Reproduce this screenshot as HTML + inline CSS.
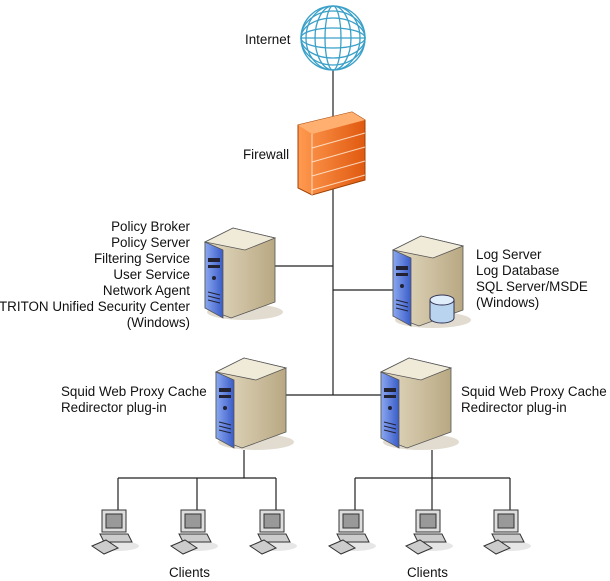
<!DOCTYPE html>
<html><head><meta charset="utf-8"><style>
body{margin:0;background:#fff}
svg{display:block}
text{font-family:"Liberation Sans",sans-serif;font-size:13.4px;fill:#111}
</style></head><body>
<svg width="610" height="581" viewBox="0 0 610 581" xmlns="http://www.w3.org/2000/svg">
<defs>
<linearGradient id="side" x1="0" x2="1"><stop offset="0" stop-color="#e6dcc4"/><stop offset="1" stop-color="#b8a882"/></linearGradient>
<linearGradient id="front" x1="0" x2="1"><stop offset="0" stop-color="#8aa8f0"/><stop offset="1" stop-color="#3a5cc8"/></linearGradient>
<linearGradient id="fw" x1="0" x2="1"><stop offset="0" stop-color="#ff9a50"/><stop offset="1" stop-color="#e05a10"/></linearGradient>
<g id="srv">
<ellipse cx="40" cy="92" rx="38" ry="8" fill="#e2dcd0"/>
<polygon points="0,22 28,8 70,18 70,82 26,98 0,88" fill="url(#side)" stroke="#555" stroke-width="0.8"/>
<polygon points="0,22 28,8 70,18 40,30" fill="#f0ead8" stroke="#555" stroke-width="0.8"/>
<polygon points="0,22 18,30 18,98 0,88" fill="url(#front)" stroke="#555" stroke-width="0.8"/>
<rect x="3" y="38" width="12" height="4" fill="#223"/><rect x="3" y="45" width="12" height="3" fill="#223"/>
<circle cx="9" cy="58" r="2" fill="#223"/>
<line x1="3" y1="72" x2="15" y2="75" stroke="#223"/><line x1="3" y1="76" x2="15" y2="79" stroke="#223"/><line x1="3" y1="80" x2="15" y2="83" stroke="#223"/>
</g>
<g id="pc">
<ellipse cx="25" cy="38" rx="22" ry="5" fill="#e6e6e6"/>
<rect x="10" y="2" width="24" height="22" fill="#ddd" stroke="#333"/>
<rect x="14" y="6" width="16" height="14" fill="#999" stroke="#333"/>
<polygon points="8,26 36,26 40,34 12,34" fill="#ccc" stroke="#333"/>
<polygon points="0,38 14,32 26,40 12,46" fill="#ccc" stroke="#333"/>
</g>
</defs>
<g stroke="#222" stroke-width="1.2" fill="none">
<line x1="333" y1="70" x2="333" y2="395"/>
<line x1="275" y1="266" x2="333" y2="266"/>
<line x1="333" y1="290" x2="394" y2="290"/>
<line x1="280" y1="395" x2="384" y2="395"/>
<line x1="244" y1="450" x2="244" y2="478"/>
<line x1="432" y1="450" x2="432" y2="478"/>
<line x1="118" y1="478" x2="276" y2="478"/>
<line x1="355" y1="478" x2="510" y2="478"/>
<line x1="118" y1="478" x2="118" y2="510"/><line x1="197" y1="478" x2="197" y2="510"/><line x1="276" y1="478" x2="276" y2="510"/>
<line x1="355" y1="478" x2="355" y2="510"/><line x1="432" y1="478" x2="432" y2="510"/><line x1="510" y1="478" x2="510" y2="510"/>
</g>
<g stroke="#3aa0c8" stroke-width="1.3" fill="#fff">
<circle cx="333" cy="38" r="32"/>
<ellipse cx="333" cy="38" rx="8" ry="32" fill="none"/>
<ellipse cx="333" cy="38" rx="18" ry="32" fill="none"/>
<ellipse cx="333" cy="38" rx="27" ry="32" fill="none"/>
<line x1="301" y1="38" x2="365" y2="38"/>
<ellipse cx="333" cy="38" rx="32" ry="10" fill="none"/>
<ellipse cx="333" cy="38" rx="32" ry="20" fill="none"/>
<ellipse cx="333" cy="38" rx="32" ry="27" fill="none"/>
</g>
<polygon points="298,125 352,112 365,120 365,180 312,195 298,188" fill="url(#fw)" stroke="#a04000"/>
<polygon points="298,125 352,112 365,120 312,134" fill="#ffb070"/>
<g stroke="#fff0e0" stroke-width="1" fill="none" opacity="0.8">
<line x1="312" y1="134" x2="312" y2="195"/>
<line x1="312" y1="148" x2="365" y2="133"/><line x1="312" y1="162" x2="365" y2="147"/><line x1="312" y1="176" x2="365" y2="161"/><line x1="312" y1="190" x2="365" y2="175"/>
</g>
<use href="#srv" x="205" y="220"/>
<use href="#srv" x="393" y="228"/>
<g><path d="M430,300 v18 a12,5 0 0 0 24,0 v-18" fill="#b8d4ee" stroke="#335"/><ellipse cx="442" cy="300" rx="12" ry="5" fill="#dfeefa" stroke="#335"/></g>
<use href="#srv" x="216" y="350"/>
<use href="#srv" x="381" y="350"/>
<use href="#pc" x="92" y="508"/><use href="#pc" x="171" y="508"/><use href="#pc" x="250" y="508"/>
<use href="#pc" x="329" y="508"/><use href="#pc" x="406" y="508"/><use href="#pc" x="484" y="508"/>
<text x="245" y="44">Internet</text>
<text x="243" y="159">Firewall</text>
<g text-anchor="end">
<text x="190" y="231">Policy Broker</text>
<text x="190" y="247">Policy Server</text>
<text x="190" y="263">Filtering Service</text>
<text x="190" y="279">User Service</text>
<text x="190" y="295">Network Agent</text>
<text x="190" y="311">TRITON Unified Security Center</text>
<text x="190" y="327">(Windows)</text>
</g>
<text x="476" y="259">Log Server</text>
<text x="476" y="275">Log Database</text>
<text x="476" y="291">SQL Server/MSDE</text>
<text x="476" y="307">(Windows)</text>
<text x="61" y="396">Squid Web Proxy Cache</text>
<text x="61" y="412">Redirector plug-in</text>
<text x="461" y="396">Squid Web Proxy Cache</text>
<text x="461" y="412">Redirector plug-in</text>
<text x="169" y="577">Clients</text>
<text x="407" y="577">Clients</text>
</svg>
</body></html>
